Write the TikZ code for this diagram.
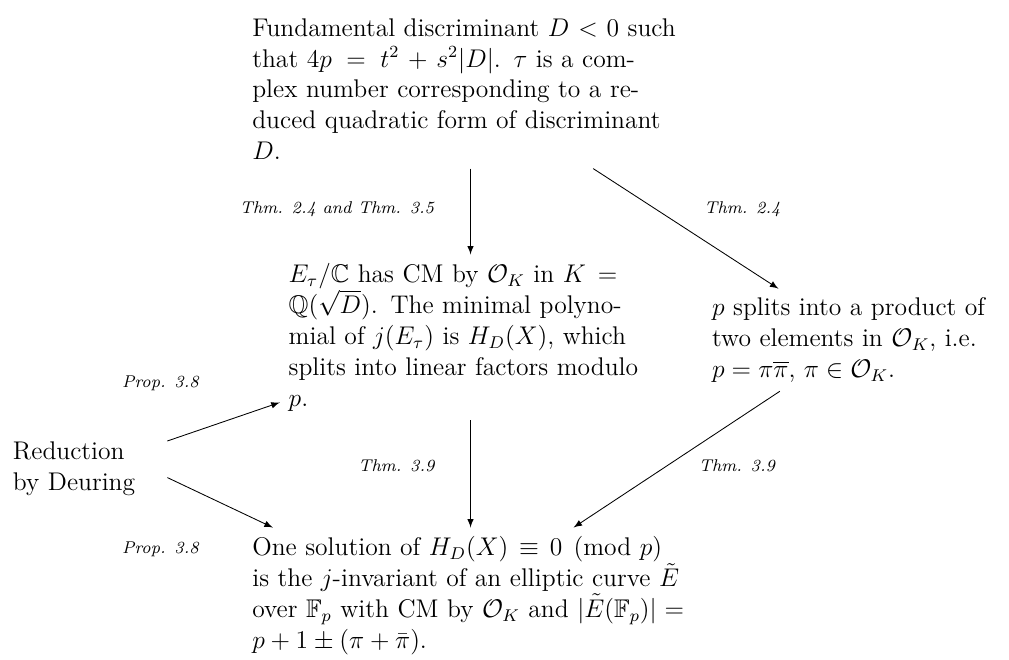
\documentclass[tikz,12pt,border=0pt]{standalone}
\usepackage{amsmath,amssymb}
\begin{document}
\begin{tikzpicture}[>=latex,
        stmt/.style={text width=#1},
        reflabel/.style={font=\scriptsize\itshape}]
        \useasboundingbox (0,0) rectangle (16.650,-10.891);

        % Statements
        \node[stmt=7.2cm] (disc) at (7.764,-1.469) {Fundamental discriminant $D<0$ such that $4p = t^2 + s^2|D|$. $\tau$ is a com-\linebreak plex number corresponding to a re-\linebreak duced quadratic form of discriminant\linebreak $D$.};
        \node[stmt=6cm] (cm) at (7.764,-5.566) {$E_\tau/\mathbb{C}$ has CM by $\mathcal{O}_K$ in $K = \mathbb{Q}(\sqrt{D})$. The minimal polynomial of $j(E_\tau)$ is $H_D(X)$, which splits into linear factors modulo $p$.};
        \node[stmt=4.8cm] (split) at (14.150,-5.610) {$p$ splits into a product of two elements in $\mathcal{O}_K$, i.e.\ $p = \pi\overline{\pi}$, $\pi \in \mathcal{O}_K$.};
        \node[stmt=7.2cm] (sol) at (7.764,-9.828) {One solution of $H_D(X) \equiv 0 \pmod{p}$ is the $j$-invariant of an elliptic curve $\tilde{E}$ over $\mathbb{F}_p$ with CM by $\mathcal{O}_K$ and $|\tilde{E}(\mathbb{F}_p)| = p + 1 \pm (\pi + \bar{\pi})$.};
        \node[stmt=2.4cm] (deuring) at (1.414,-7.739) {Reduction by Deuring};

        % Arrows
        \draw[->] (disc) -- (cm);
        \draw[->] (disc) -- (split);
        \draw[->] (cm) -- (sol);
        \draw[->] (split) -- (sol);
        \draw[->] (deuring) -- (cm);
        \draw[->] (deuring.-6) -- (sol.161);

        % References
        \node[reflabel] (r1) at (5.561,-3.449) {Thm. 2.4 and Thm. 3.5};
        \node[reflabel] (r2) at (12.252,-3.449) {Thm. 2.4};
        \node[reflabel] (r3) at (2.648,-6.320) {Prop. 3.8};
        \node[reflabel] (r4) at (6.543,-7.690) {Thm. 3.9};
        \node[reflabel] (r5) at (12.161,-7.690) {Thm. 3.9};
        \node[reflabel] (r6) at (2.648,-9.060) {Prop. 3.8};
\end{tikzpicture}
\end{document}
